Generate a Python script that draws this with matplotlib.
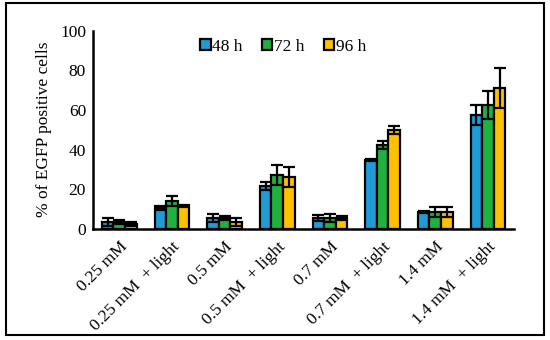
import numpy as np
import matplotlib.pyplot as plt
from matplotlib.patches import Rectangle

categories = ['0.25 mM', '0.25 mM  + light', '0.5 mM', '0.5 mM  + light',
              '0.7 mM', '0.7 mM  + light', '1.4 mM', '1.4 mM  + light']
series = ['48 h', '72 h', '96 h']
vals_48 = [3.5, 10.5, 5.5, 21.5, 5.5, 34.5, 8.5, 57.5]
vals_72 = [3.5, 14.0, 5.5, 27.0, 5.5, 42.5, 8.5, 62.5]
vals_96 = [2.5, 11.5, 3.5, 26.0, 5.5, 50.0, 8.5, 71.0]
err_48 = [2.0, 1.0, 2.0, 2.0, 1.5, 0.5, 0.5, 5.0]
err_72 = [1.0, 2.5, 1.0, 5.0, 2.0, 2.0, 2.5, 7.0]
err_96 = [1.0, 0.5, 2.0, 5.0, 1.0, 2.0, 2.5, 10.0]
colors = ['#1f9bd7', '#1fb23e', '#ffc000']

plt.rcParams['font.family'] = ['Liberation Serif', 'DejaVu Serif']

fig = plt.figure(figsize=(5.5, 3.4), dpi=100)
ax = fig.add_axes([0.169, 0.327, 0.766, 0.583])

x = np.arange(len(categories))
w = 0.22
all_vals = [vals_48, vals_72, vals_96]
all_errs = [err_48, err_72, err_96]
for i, (v, e, c, lab) in enumerate(zip(all_vals, all_errs, colors, series)):
    ax.bar(x + (i - 1) * w, v, w, color=c, edgecolor='black', linewidth=1.6,
           label=lab, zorder=2)
    ax.errorbar(x + (i - 1) * w, v, yerr=e, fmt='none', ecolor='black',
                elinewidth=1.6, capsize=4.2, capthick=1.6, zorder=3)

ax.set_xlim(-0.5, len(categories) - 0.5)
ax.set_ylim(0, 100)
ax.set_yticks([0, 20, 40, 60, 80, 100])
ax.set_xticks(x)
ax.set_xticklabels(categories, rotation=45, ha='right', rotation_mode='anchor',
                   fontsize=12.5)
ax.tick_params(axis='both', length=0, labelsize=12.5)
ax.tick_params(axis='x', pad=7)
ax.tick_params(axis='y', pad=5)
ax.set_ylabel('% of EGFP positive cells', fontsize=12.5, labelpad=6)
for s in ['top', 'right']:
    ax.spines[s].set_visible(False)
for s in ['left', 'bottom']:
    ax.spines[s].set_linewidth(1.8)

fig.legend(loc='center', bbox_to_anchor=(0.515, 0.862), ncol=3, frameon=False,
           fontsize=12.5, handlelength=0.6, handleheight=0.6, handletextpad=0.1,
           columnspacing=1.1)

fig.patches.append(Rectangle((0.011, 0.015), 0.978, 0.976, transform=fig.transFigure,
                             fill=False, edgecolor='black', linewidth=1.5))

fig.savefig('out.png', dpi=100)
